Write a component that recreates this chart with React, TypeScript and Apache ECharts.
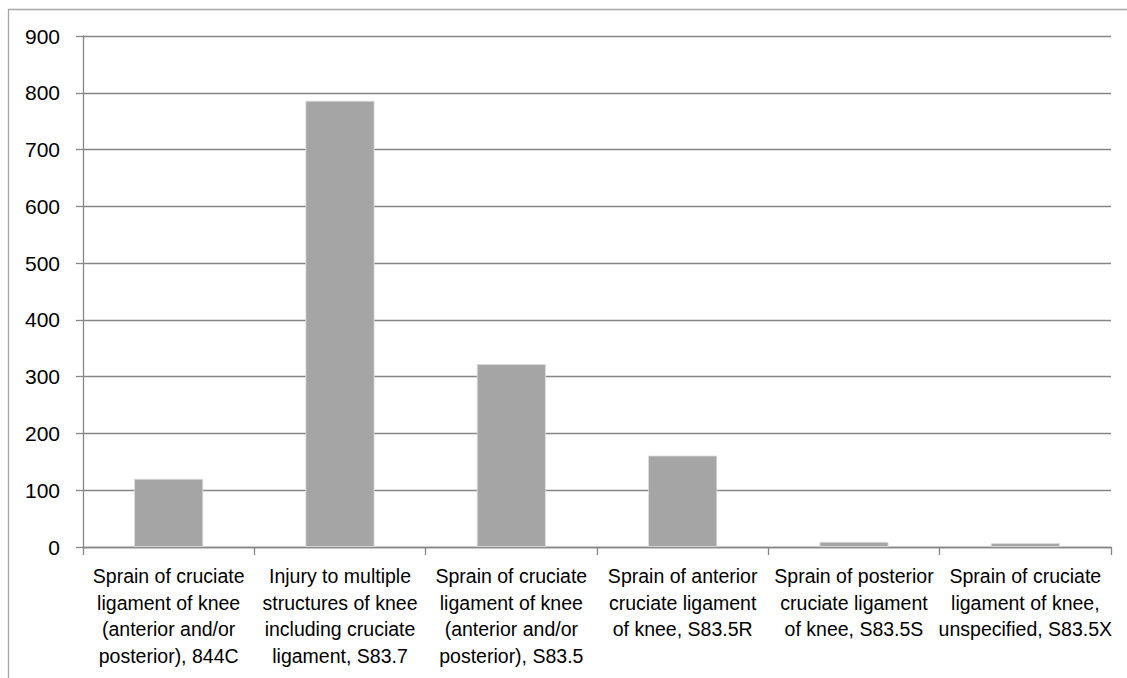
import React, { useEffect, useRef } from "react";
import * as echarts from "echarts";

const categories: string[] = [
  "Sprain of cruciate\nligament of knee\n(anterior and/or\nposterior), 844C",
  "Injury to multiple\nstructures of knee\nincluding cruciate\nligament, S83.7",
  "Sprain of cruciate\nligament of knee\n(anterior and/or\nposterior), S83.5",
  "Sprain of anterior\ncruciate ligament\nof knee, S83.5R",
  "Sprain of posterior\ncruciate ligament\nof knee, S83.5S",
  "Sprain of cruciate\nligament of knee,\nunspecified, S83.5X",
];
const values: number[] = [120, 786, 322, 161, 9, 7];
const yMin = 0;
const yMax = 900;
const yStep = 100;

export default function App() {
  const ref = useRef<HTMLDivElement>(null);
  useEffect(() => {
    if (!ref.current) return;
    const chart = echarts.init(ref.current, undefined, { renderer: "svg" });
    const font = "'Liberation Sans', Arial, sans-serif";
    chart.setOption({
      animation: false,
      backgroundColor: "#ffffff",
      graphic: [
        {
          type: "rect",
          shape: { x: 8.5, y: 9.5, width: 1300, height: 800 },
          style: { fill: "none", stroke: "#a6a6a6", lineWidth: 1.3 },
          silent: true,
        },
      ],
      grid: { left: 83, right: 16, top: 36, bottom: 131, containLabel: false },
      xAxis: {
        type: "category",
        data: categories,
        axisLine: { show: true, lineStyle: { color: "#868686", width: 1.3 } },
        axisTick: { show: true, length: 8, lineStyle: { color: "#868686", width: 1.3 } },
        axisLabel: {
          interval: 0,
          margin: 16,
          color: "#000000",
          fontFamily: font,
          fontSize: 19.5,
          lineHeight: 26.5,
        },
      },
      yAxis: {
        type: "value",
        min: yMin,
        max: yMax,
        interval: yStep,
        axisLine: { show: true, lineStyle: { color: "#868686", width: 1.3 } },
        axisTick: { show: true, length: 7, lineStyle: { color: "#868686", width: 1.3 } },
        splitLine: { show: true, lineStyle: { color: "#868686", width: 1.3 } },
        axisLabel: {
          margin: 23,
          color: "#000000",
          fontFamily: font,
          fontSize: 21,
        },
      },
      series: [
        {
          type: "bar",
          data: values,
          barWidth: 69,
          itemStyle: { color: "#a5a5a5", borderColor: "#dcdcdc", borderWidth: 0.8 },
        },
      ],
    });
    return () => chart.dispose();
  }, []);
  return (
    <div
      ref={ref}
      style={{ position: "fixed", left: 0, top: 0, width: 1127, height: 678 }}
    />
  );
}
